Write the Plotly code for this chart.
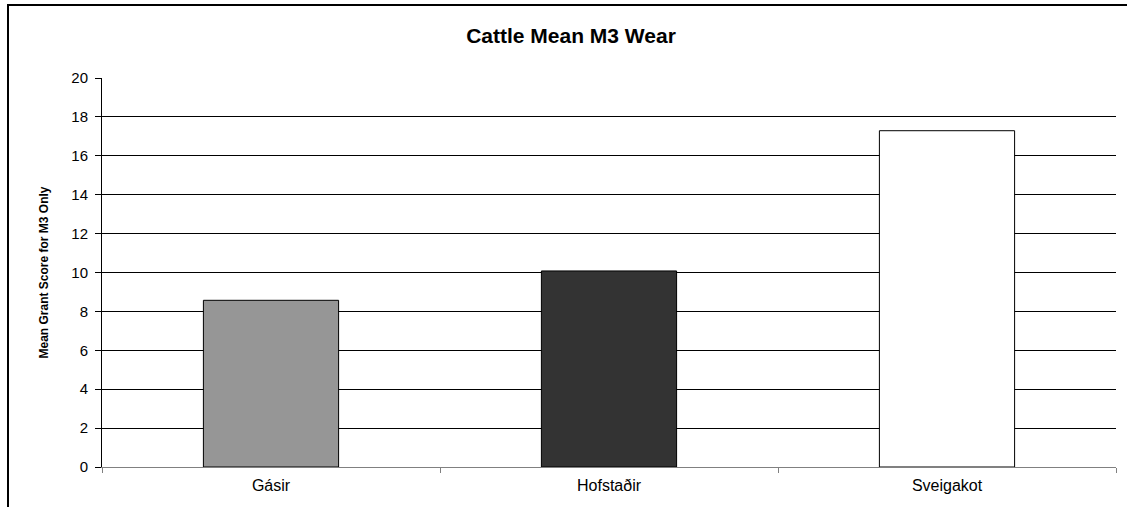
import plotly.graph_objects as go

categories = ["Gásir", "Hofstaðir", "Sveigakot"]
values = [8.57, 10.08, 17.29]
bar_colors = ["#969696", "#333333", "#ffffff"]
y_ticks = [0, 2, 4, 6, 8, 10, 12, 14, 16, 18, 20]

W, H = 1127, 507
ml, mr, mt, mb = 102, 11, 78, 40
pw, ph = W - ml - mr, H - mt - mb

fig = go.Figure(go.Bar(
    x=categories, y=values, width=0.4,
    marker=dict(color=bar_colors, line=dict(color="#000000", width=1)),
))

font = "Liberation Sans, Arial, sans-serif"
fig.update_layout(
    width=W, height=H,
    margin=dict(l=ml, r=mr, t=mt, b=mb),
    paper_bgcolor="white", plot_bgcolor="white",
    showlegend=False,
    title=dict(text="<b>Cattle Mean M3 Wear</b>", x=571 / W, xanchor="center",
               y=1 - 36 / H, yanchor="middle",
               font=dict(family=font, size=21, color="#000000")),
    font=dict(family=font, color="#000000"),
)
fig.update_yaxes(
    range=[0, 20], tickvals=y_ticks, ticktext=[str(v) for v in y_ticks],
    showgrid=True, gridcolor="#000000", gridwidth=1,
    showline=True, linecolor="#000000", linewidth=1,
    ticks="outside", ticklen=6, tickcolor="#000000",
    ticklabelstandoff=4,
    tickfont=dict(family=font, size=15, color="#000000"),
    zeroline=False, fixedrange=True,
)
fig.update_xaxes(
    showline=True, linecolor="#808080", linewidth=1,
    ticks="outside", tickson="boundaries", ticklen=5, tickcolor="#808080",
    ticklabelstandoff=4,
    tickfont=dict(family=font, size=16, color="#000000"),
    showgrid=False, zeroline=False,
)
fig.add_annotation(
    text="<b>Mean Grant Score for M3 Only</b>", textangle=-90,
    xref="paper", yref="paper", x=(43 - ml) / pw, y=0.5,
    xanchor="center", yanchor="middle", showarrow=False,
    font=dict(family=font, size=12, color="#000000"),
)
# outer chart frame
fig.add_shape(
    type="rect", xref="paper", yref="paper",
    x0=(8 - ml) / pw, x1=1.05, y0=-0.3, y1=1 + (mt - 5) / ph,
    line=dict(color="#000000", width=2), fillcolor="rgba(0,0,0,0)", layer="above",
)

fig.write_html("out.html", config={"displayModeBar": False},
               post_script="document.body.style.margin='0px';")
